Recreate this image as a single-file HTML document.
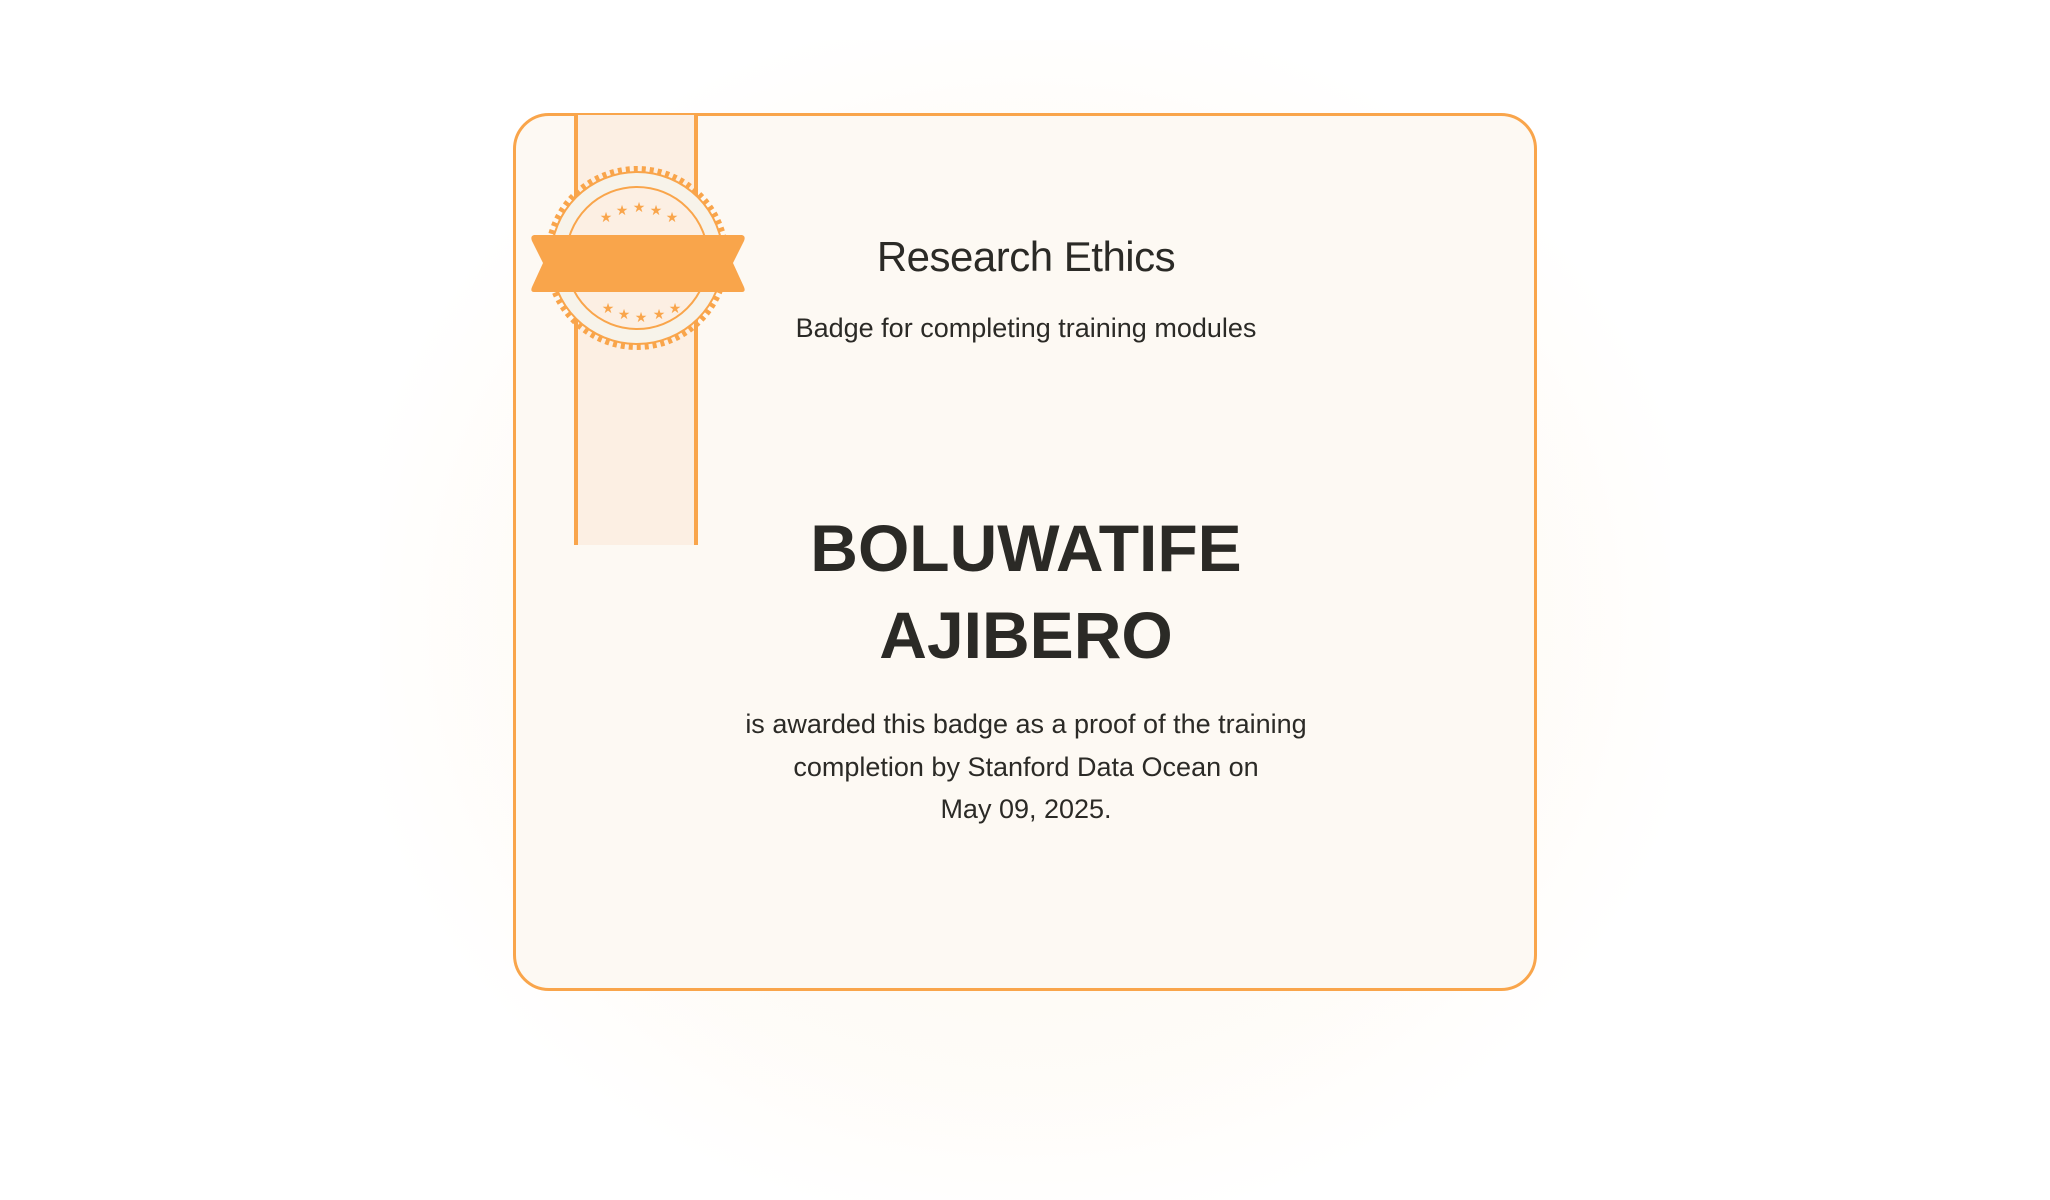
<!DOCTYPE html>
<html><head><meta charset="utf-8">
<style>
html,body{margin:0;padding:0;}
body{width:2050px;height:1192px;position:relative;overflow:hidden;background:#fff;font-family:"Liberation Sans",sans-serif;color:#2b2a26;}
.glow{position:absolute;left:380px;top:40px;width:1290px;height:1160px;border-radius:300px;background:radial-gradient(ellipse at center,rgba(254,246,236,0.8) 0%,rgba(254,248,240,0.5) 55%,rgba(255,255,255,0) 75%);}
.card{position:absolute;left:513px;top:113px;width:1018px;height:872px;border:3.5px solid #f9a54b;border-radius:36px;background:#fdf9f3;}
.t{position:absolute;left:0;width:2052px;text-align:center;white-space:nowrap;}
</style></head>
<body>
<div class="glow"></div>
<div class="card"></div>
<svg style="position:absolute;left:0;top:0" width="2050" height="1192">
  <rect x="575" y="115" width="122" height="430" fill="#fcefe3"/>
  <line x1="576" y1="115" x2="576" y2="545" stroke="#f9a54b" stroke-width="4"/>
  <line x1="696" y1="115" x2="696" y2="545" stroke="#f9a54b" stroke-width="4"/>
  <g>
    <circle cx="637" cy="258" r="89" fill="none" stroke="#f9a54b" stroke-width="6" stroke-dasharray="4 4"/>
    <circle cx="637" cy="258" r="87" fill="#f9a54b"/>
    <circle cx="637" cy="258" r="85" fill="#f7f3ea"/>
    <circle cx="637" cy="258" r="71" fill="#fcefe3" stroke="#f9a54b" stroke-width="2"/>
    <g fill="#f9a54b" font-size="14" text-anchor="middle" font-family="DejaVu Sans">
      <text x="606" y="222">★</text><text x="622" y="215">★</text><text x="639" y="212">★</text><text x="656" y="215">★</text><text x="672" y="222">★</text>
      <text x="608" y="313">★</text><text x="624" y="319">★</text><text x="641" y="322">★</text><text x="659" y="319">★</text><text x="675" y="313">★</text>
    </g>
    <path d="M534 235 H742 Q746 236 744 241 L733 263 L744 287 Q746 292 742 292 H534 Q530 292 532 287 L543 263 L532 241 Q530 236 534 235 Z" fill="#f9a54b"/>
  </g>
</svg>
<div class="t" style="top:233px;font-size:42px;letter-spacing:-0.5px;">Research Ethics</div>
<div class="t" style="top:313px;font-size:27px;">Badge for completing training modules</div>
<div class="t" style="top:505px;font-size:66px;font-weight:bold;line-height:87px;">BOLUWATIFE<br>AJIBERO</div>
<div class="t" style="top:703px;font-size:27px;line-height:42.5px;">is awarded this badge as a proof of the training<br>completion by Stanford Data Ocean on<br>May 09, 2025.</div>
</body></html>
